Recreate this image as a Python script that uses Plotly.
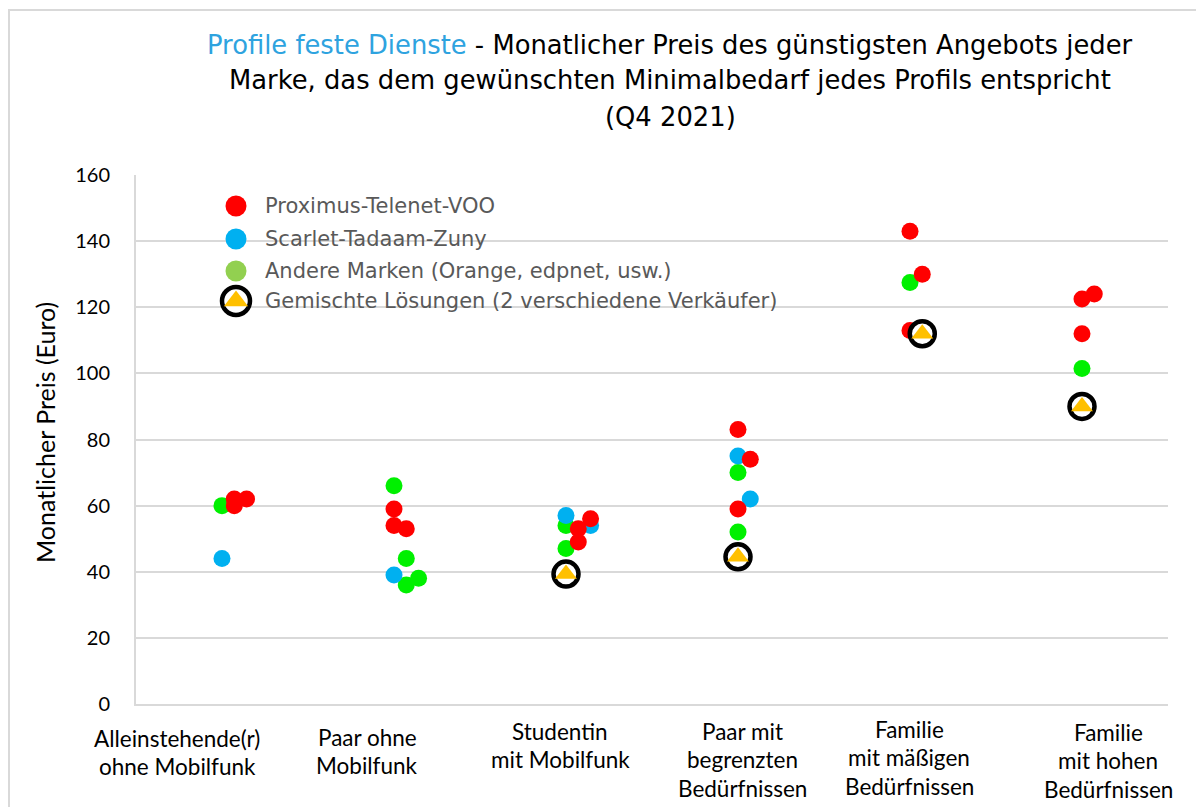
import plotly.graph_objects as go

# ---------------- data ----------------
categories = [1, 2, 3, 4, 5, 6]
category_labels = [
    ["Alleinstehende(r)", "ohne Mobilfunk"],
    ["Paar ohne", "Mobilfunk"],
    ["Studentin", "mit Mobilfunk"],
    ["Paar mit", "begrenzten", "Bedürfnissen"],
    ["Familie", "mit mäßigen", "Bedürfnissen"],
    ["Familie", "mit hohen", "Bedürfnissen"],
]

# Proximus-Telenet-VOO
red_cat = [1, 1, 1, 2, 2, 2, 3, 3, 3, 4, 4, 4, 5, 5, 5, 6, 6, 6]
red_slot = [1, 1, 2, 0, 0, 1, 1, 2, 1, 0, 1, 0, 0, 1, 0, 0, 1, 0]
red_val = [62, 60, 62, 59, 54, 53, 53, 56, 49, 83, 74, 59, 143, 130, 113, 122.5, 124, 112]

# Scarlet-Tadaam-Zuny
blue_cat = [1, 2, 3, 3, 4, 4]
blue_slot = [0, 0, 0, 2, 0, 1]
blue_val = [44, 39, 57, 54, 75, 62]

# Andere Marken
green_cat = [1, 2, 2, 2, 2, 3, 3, 4, 4, 5, 6]
green_slot = [0, 0, 1, 1, 2, 0, 0, 0, 0, 0, 0]
green_val = [60, 66, 44, 36, 38, 54, 47, 70, 52, 127.5, 101.5]

# Gemischte Lösungen
mix_cat = [3, 4, 5, 6]
mix_slot = [0, 0, 1, 0]
mix_val = [39.3, 44.5, 112, 90]

legend_names = [
    "Proximus-Telenet-VOO",
    "Scarlet-Tadaam-Zuny",
    "Andere Marken (Orange, edpnet, usw.)",
    "Gemischte Lösungen (2 verschiedene Verkäufer)",
]

# ---------------- styling ----------------
RED = "#FF0000"
BLUE = "#00B0F0"
GREEN = "#00F000"
GREEN_LEG = "#92D050"
GOLD = "#FFC000"
GRID = "#D9D9D9"
SLOT = 0.0714

PAGE_OFF = 8  # default body margin of the html page
W, H = 1204, 807
PLOT_L, PLOT_R, PLOT_T, PLOT_B = 136, 1168, 175, 704
PW, PH = PLOT_R - PLOT_L, PLOT_B - PLOT_T


def px_x(p):
    return (p - PLOT_L) / PW


def px_y(p):
    return (PLOT_B - p) / PH


def xs(cats, slots):
    return [c + s * SLOT for c, s in zip(cats, slots)]


fig = go.Figure()

fig.add_trace(go.Scatter(x=xs(green_cat, green_slot), y=green_val, mode="markers",
                         marker=dict(color=GREEN, size=17), name=legend_names[2], showlegend=False))
fig.add_trace(go.Scatter(x=xs(blue_cat, blue_slot), y=blue_val, mode="markers",
                         marker=dict(color=BLUE, size=17), name=legend_names[1], showlegend=False))
fig.add_trace(go.Scatter(x=xs(red_cat, red_slot), y=red_val, mode="markers",
                         marker=dict(color=RED, size=17), name=legend_names[0], showlegend=False))
fig.add_trace(go.Scatter(x=xs(mix_cat, mix_slot), y=mix_val, mode="markers",
                         marker=dict(color="white", size=25, symbol="circle",
                                     line=dict(color="black", width=4.5)),
                         name=legend_names[3], showlegend=False))
fig.add_trace(go.Scatter(x=xs(mix_cat, mix_slot), y=mix_val, mode="markers",
                         marker=dict(color=GOLD, size=19, symbol="triangle-up", line=dict(width=0)),
                         name=legend_names[3], showlegend=False))

# ---------------- manual legend (overlay axis 0..1) ----------------
leg_x = px_x(236)
leg_rows = [206, 239, 271, 301]
leg_styles = [
    [dict(color=RED, size=21)],
    [dict(color=BLUE, size=21)],
    [dict(color=GREEN_LEG, size=21)],
    [dict(color="white", size=28, line=dict(color="black", width=4.5)),
     dict(color=GOLD, size=21, symbol="triangle-up", line=dict(width=0))],
]
for row, styles, name in zip(leg_rows, leg_styles, legend_names):
    for st in styles:
        fig.add_trace(go.Scatter(x=[leg_x], y=[px_y(row)], mode="markers", marker=st,
                                 xaxis="x2", yaxis="y2", showlegend=False, hoverinfo="skip"))
    fig.add_annotation(x=px_x(263), y=px_y(row), xref="paper", yref="paper",
                       text=name, showarrow=False, xanchor="left", yanchor="middle",
                       font=dict(family="DejaVu Sans", size=21, color="#595959"))

# ---------------- title ----------------
title_lines = [
    '<span style="color:#2EA3DF">Profile feste Dienste</span> - Monatlicher Preis des günstigsten Angebots jeder',
    "Marke, das dem gewünschten Minimalbedarf jedes Profils entspricht",
    "(Q4 2021)",
]
for ty, t in zip([45, 80, 117], title_lines):
    fig.add_annotation(x=px_x(670), y=px_y(ty), xref="paper", yref="paper", text=t,
                       showarrow=False, xanchor="center", yanchor="middle",
                       font=dict(family="DejaVu Sans", size=25.8, color="black"))

# ---------------- category labels ----------------
label_cx = [177, 367, 560, 742, 909, 1108]
label_y0 = [738, 737, 731, 731, 729, 732]
for cx, y0, lines in zip(label_cx, label_y0, category_labels):
    for i, ln in enumerate(lines):
        fig.add_annotation(x=px_x(cx), y=px_y(y0 + i * 28.5), xref="paper", yref="paper",
                           text=ln, showarrow=False, xanchor="center", yanchor="middle",
                           font=dict(family="Lato", size=22.5, color="black"))

# y-axis title
fig.add_annotation(x=px_x(45), y=px_y(433), xref="paper", yref="paper",
                   text="Monatlicher Preis (Euro)", textangle=-90, showarrow=False,
                   xanchor="center", yanchor="middle",
                   font=dict(family="Lato", size=25, color="black"))

# outer frame
fig.add_shape(type="rect", xref="paper", yref="paper",
              x0=px_x(9), x1=px_x(1230), y0=px_y(830), y1=px_y(10),
              line=dict(color=GRID, width=2), layer="below")

fig.update_layout(
    width=W - PAGE_OFF, height=H - PAGE_OFF,
    margin=dict(l=PLOT_L - PAGE_OFF, r=W - PLOT_R, t=PLOT_T - PAGE_OFF, b=H - PLOT_B),
    paper_bgcolor="white", plot_bgcolor="white",
    showlegend=False,
    xaxis=dict(range=[0.5, 6.5], showgrid=False, zeroline=False, showticklabels=False,
               showline=True, linecolor=GRID, linewidth=2, ticks=""),
    yaxis=dict(range=[0, 160], dtick=20, showgrid=True, gridcolor=GRID, gridwidth=2,
               zeroline=False, showline=True, linecolor=GRID, linewidth=2,
               ticks="outside", ticklen=20, tickcolor="rgba(0,0,0,0)",
               tickfont=dict(family="Lato", size=20, color="black")),
    xaxis2=dict(range=[0, 1], overlaying="x", visible=False),
    yaxis2=dict(range=[0, 1], overlaying="y", visible=False),
)

fig.write_html("out.html")
